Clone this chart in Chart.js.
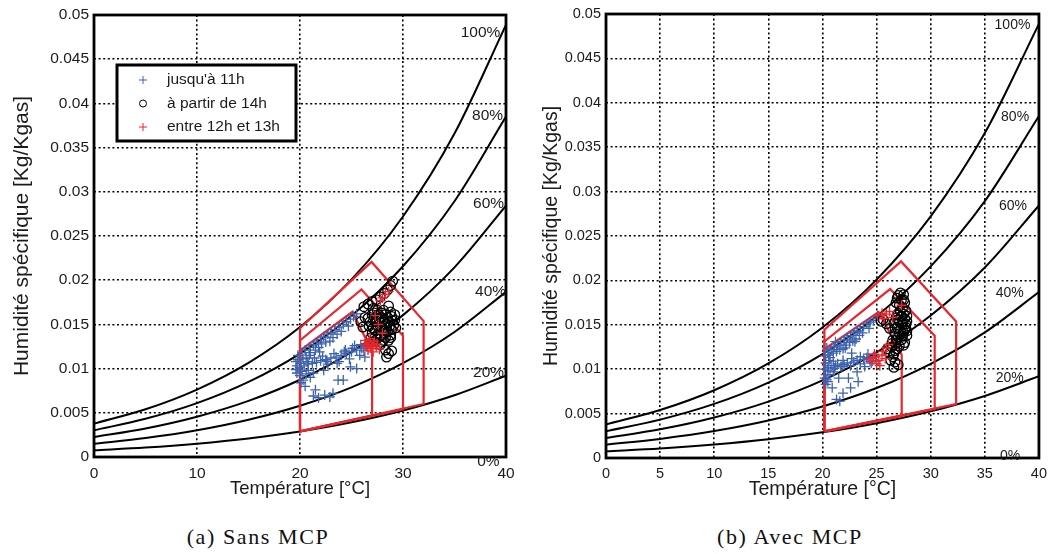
<!DOCTYPE html>
<html lang="fr">
<head>
<meta charset="utf-8">
<title>Humidité spécifique - Sans / Avec MCP</title>
<script src="https://cdn.jsdelivr.net/npm/chart.js@4.4.0/dist/chart.umd.min.js"></script>
<style>
    html, body { margin: 0; padding: 0; background: #fff; }
    body { width: 1054px; height: 554px; position: relative; overflow: hidden; }
    canvas { position: absolute; top: 0; }
    #chartA { left: 0; }
    #chartB { left: 530px; }
    .caption {
        position: absolute; top: 524px; transform: translateX(-50%);
        font-family: "Liberation Serif", "Times New Roman", serif; font-size: 22px;
        letter-spacing: 1.6px; color: #111; white-space: nowrap;
    }
</style>
</head>
<body>
<canvas id="chartA" width="530" height="520"></canvas>
<canvas id="chartB" width="524" height="520"></canvas>
<div class="caption" style="left:258px">(a) Sans MCP</div>
<div class="caption" style="left:790px">(b) Avec MCP</div>

<script>
// ---- values ----
const temps = [0, 5, 10, 15, 20, 25, 30, 35, 40];
const rh100 = [0.00378, 0.00540, 0.00763, 0.01065, 0.01470, 0.02009, 0.02721, 0.03659, 0.04889];
const rh80  = [0.00302, 0.00432, 0.00609, 0.00849, 0.01170, 0.01597, 0.02158, 0.02893, 0.03851];
const rh60  = [0.00226, 0.00323, 0.00456, 0.00635, 0.00874, 0.01190, 0.01605, 0.02145, 0.02844];
const rh40  = [0.00150, 0.00215, 0.00303, 0.00422, 0.00580, 0.00788, 0.01061, 0.01414, 0.01868];
const rh20  = [0.00075, 0.00107, 0.00151, 0.00210, 0.00289, 0.00392, 0.00526, 0.00699, 0.00920];
const rhNames = ['100%', '80%', '60%', '40%', '20%', '0%'];

const xTicksA = [0, 10, 20, 30, 40];
const xTicksB = [0, 5, 10, 15, 20, 25, 30, 35, 40];
const yTicks = [0, 0.005, 0.01, 0.015, 0.02, 0.025, 0.03, 0.035, 0.04, 0.045, 0.05];

const seriesNames = ["jusqu'à 11h", 'à partir de 14h', 'entre 12h et 13h'];

// comfort zones [T, w]  (a) sans MCP
const zoneOuterA  = [[20, 0.0029], [20, 0.01458], [26.95, 0.02207], [32.0, 0.01538], [32.0, 0.0060], [20, 0.0029]];
const zoneMiddleA = [[20, 0.0029], [20, 0.01318], [25.97, 0.01895], [30.0, 0.01372], [30.0, 0.0054], [20, 0.0029]];
const zoneInnerA  = [[20, 0.0029], [20, 0.01203], [25.1, 0.01643], [27.0, 0.0119], [27.0, 0.0047], [20, 0.0029]];
// (b) avec MCP
const zoneOuterB  = [[20.18, 0.0030], [20.18, 0.01445], [27.26, 0.02214], [32.35, 0.01538], [32.35, 0.00608], [20.18, 0.0030]];
const zoneMiddleB = [[20.18, 0.0030], [20.18, 0.01313], [26.25, 0.01902], [30.37, 0.01377], [30.37, 0.00552], [20.18, 0.0030]];
const zoneInnerB  = [[20.18, 0.0030], [20.18, 0.01227], [25.18, 0.01644], [27.32, 0.01163], [27.32, 0.00469], [20.18, 0.0030]];

// measured points (a) sans MCP
const blueA = [
    [19.8, 0.0115], [20.2, 0.0118], [20.5, 0.0121], [20.9, 0.0124], [21.3, 0.0127], [21.6, 0.0130], [22.0, 0.0133],
    [22.3, 0.0136], [22.7, 0.0139], [23.0, 0.0141], [23.4, 0.0144], [23.8, 0.0147], [24.2, 0.0150], [24.5, 0.0153],
    [24.9, 0.0156], [25.2, 0.0159], [25.5, 0.0162], [21.0, 0.0118], [21.8, 0.0124], [22.5, 0.0130], [23.2, 0.0135],
    [24.0, 0.0142], [20.6, 0.0112], [22.1, 0.0128], [19.6, 0.0108],
    [20.3, 0.0111], [20.9, 0.0115], [21.5, 0.0121], [22.9, 0.0131], [23.6, 0.0139], [24.7, 0.0148],
    [19.6, 0.0099], [20.0, 0.0101], [20.4, 0.0103], [20.8, 0.0105], [21.2, 0.0106], [21.6, 0.0107], [22.0, 0.0109],
    [22.5, 0.0110], [23.0, 0.0112], [23.5, 0.0113], [24.0, 0.0115], [24.5, 0.0117], [25.0, 0.0119], [25.5, 0.0121],
    [26.0, 0.0123], [26.4, 0.0126], [26.8, 0.0128], [25.8, 0.0115], [26.3, 0.0113], [24.8, 0.0111], [23.8, 0.0108],
    [22.7, 0.0105], [25.3, 0.0126], [24.4, 0.0121],
    [20.1, 0.0106], [20.7, 0.0108], [21.4, 0.0112], [22.2, 0.0114], [23.3, 0.0117], [24.3, 0.0119], [25.1, 0.0123],
    [19.7, 0.0103], [20.2, 0.0097], [20.6, 0.0094], [25.9, 0.0127], [26.2, 0.0120],
    [19.8, 0.0110], [20.3, 0.0087], [20.5, 0.0080], [21.5, 0.0076], [21.3, 0.0095], [22.3, 0.0098], [22.4, 0.0070],
    [22.9, 0.0068], [23.2, 0.0072], [23.7, 0.0087], [24.2, 0.0087], [24.9, 0.0102], [25.5, 0.0100], [22.6, 0.0108],
    [23.6, 0.0106], [21.9, 0.0119], [21.3, 0.0069], [21.8, 0.0067], [20.0, 0.0092], [19.7, 0.0095], [20.1, 0.0084],
    [20.8, 0.0098], [21.0, 0.0090]
];
const blackA = [
    [27.5, 0.0166], [28.1, 0.0166], [28.8, 0.0164], [27.0, 0.0161], [27.6, 0.0161], [28.3, 0.0161], [28.9, 0.0159],
    [29.2, 0.0155], [26.8, 0.0153], [27.3, 0.0153], [28.0, 0.0153], [28.6, 0.0153], [29.1, 0.0149], [26.7, 0.0148],
    [27.1, 0.0146], [27.8, 0.0148], [28.4, 0.0146], [28.9, 0.0144], [27.0, 0.0140], [27.6, 0.0140], [28.3, 0.0140],
    [28.8, 0.0138], [27.5, 0.0134], [28.1, 0.0132], [28.6, 0.0132], [27.8, 0.0127], [28.3, 0.0121], [28.6, 0.0117],
    [28.4, 0.0113], [28.9, 0.0120], [27.9, 0.0158], [27.4, 0.0157], [28.2, 0.0144], [27.3, 0.0136],
    [27.2, 0.0163], [27.9, 0.0163], [28.5, 0.0158], [27.7, 0.0155], [28.3, 0.0150], [27.5, 0.0149], [28.7, 0.0148],
    [27.3, 0.0143], [27.9, 0.0143], [28.5, 0.0142], [27.8, 0.0137], [28.3, 0.0135], [27.2, 0.0131], [27.9, 0.0130],
    [28.8, 0.0135], [29.3, 0.0146], [29.0, 0.0154], [26.9, 0.0135], [26.6, 0.0157], [27.1, 0.0168], [28.6, 0.0171],
    [29.2, 0.0161],
    [26.2, 0.0170], [26.6, 0.0173], [27.0, 0.0176], [27.4, 0.0178], [27.8, 0.0181], [28.2, 0.0185], [28.5, 0.0189],
    [28.8, 0.0194], [29.0, 0.0199], [25.9, 0.0153], [26.3, 0.0158], [26.1, 0.0147]
];
const redA = [
    [26.3, 0.0128], [26.5, 0.0125], [26.7, 0.0130], [26.9, 0.0123], [27.0, 0.0127], [27.2, 0.0131], [27.4, 0.0125],
    [26.6, 0.0121], [27.1, 0.0119], [27.5, 0.0128], [26.8, 0.0134], [27.7, 0.0122], [26.4, 0.0132], [28.0, 0.0180],
    [28.3, 0.0184], [28.6, 0.0187], [27.8, 0.0177], [27.6, 0.0150], [28.0, 0.0140], [27.3, 0.0160]
];

// measured points (b) avec MCP
const blueB = [
    [20.2, 0.0115], [20.5, 0.0119], [20.8, 0.0122], [21.1, 0.0125], [21.4, 0.0127], [21.7, 0.0130], [22.0, 0.0133],
    [22.3, 0.0136], [22.6, 0.0138], [22.9, 0.0141], [23.2, 0.0143], [23.5, 0.0146], [23.8, 0.0148], [24.1, 0.0151],
    [24.4, 0.0153], [24.7, 0.0155], [25.0, 0.0157], [25.2, 0.0159], [21.0, 0.0118], [21.6, 0.0122], [22.2, 0.0127],
    [22.8, 0.0132], [23.4, 0.0138], [20.4, 0.0124], [21.2, 0.0131],
    [20.3, 0.0107], [20.7, 0.0113], [21.3, 0.0120], [21.9, 0.0123], [22.5, 0.0130], [23.1, 0.0134], [23.7, 0.0141],
    [24.3, 0.0146],
    [20.2, 0.0100], [20.5, 0.0102], [20.8, 0.0104], [21.1, 0.0101], [21.4, 0.0106], [21.7, 0.0103], [22.0, 0.0105],
    [22.3, 0.0107], [22.6, 0.0104], [22.9, 0.0108], [23.2, 0.0110], [23.5, 0.0106], [23.8, 0.0111], [24.1, 0.0113],
    [24.4, 0.0109], [24.7, 0.0114], [20.3, 0.0094], [20.6, 0.0110], [21.0, 0.0097], [20.4, 0.0088], [20.3, 0.0083],
    [20.5, 0.0098], [21.2, 0.0104], [21.9, 0.0110], [22.7, 0.0112], [23.5, 0.0114], [24.2, 0.0117], [20.2, 0.0090],
    [20.5, 0.0086],
    [20.6, 0.0116], [21.0, 0.0109], [21.8, 0.0103], [21.5, 0.0090], [22.4, 0.0090], [22.6, 0.0079], [21.9, 0.0073],
    [21.3, 0.0066], [21.6, 0.0064], [20.9, 0.0079], [20.7, 0.0094], [23.3, 0.0086], [23.2, 0.0097], [23.9, 0.0103],
    [24.5, 0.0107], [25.0, 0.0109], [22.7, 0.0118], [22.1, 0.0124], [23.0, 0.0131]
];
const blackB = [
    [27.2, 0.0186], [27.5, 0.0184], [26.9, 0.0180], [27.3, 0.0178], [27.6, 0.0175], [27.1, 0.0172], [27.4, 0.0169],
    [27.7, 0.0166], [27.0, 0.0163], [27.3, 0.0160], [27.6, 0.0157], [27.8, 0.0154], [26.8, 0.0158], [27.1, 0.0153],
    [27.4, 0.0150], [27.7, 0.0147], [26.6, 0.0152], [26.9, 0.0147], [27.2, 0.0144], [27.5, 0.0141], [27.8, 0.0138],
    [26.7, 0.0140], [27.0, 0.0136], [27.3, 0.0133], [27.6, 0.0130], [26.5, 0.0133], [26.8, 0.0129], [27.1, 0.0126],
    [26.4, 0.0125], [26.7, 0.0121], [26.2, 0.0118], [26.5, 0.0114], [26.3, 0.0110], [26.7, 0.0108], [26.6, 0.0102],
    [27.0, 0.0105], [26.0, 0.0123], [25.6, 0.0156], [25.9, 0.0151], [26.2, 0.0146], [25.4, 0.0154],
    [27.0, 0.0183], [27.5, 0.0178], [26.8, 0.0175], [27.2, 0.0165], [27.5, 0.0162], [26.9, 0.0161], [27.8, 0.0160],
    [27.0, 0.0156], [27.4, 0.0154], [26.7, 0.0146], [27.6, 0.0144], [27.1, 0.0140], [27.4, 0.0137], [26.8, 0.0133],
    [27.5, 0.0127], [26.9, 0.0123], [26.4, 0.0129], [26.6, 0.0117], [27.8, 0.0143], [27.7, 0.0151]
];
const redB = [
    [24.3, 0.0112], [24.6, 0.0109], [24.9, 0.0114], [25.2, 0.0110], [25.5, 0.0116], [25.8, 0.0112], [25.0, 0.0106],
    [25.6, 0.0120], [25.9, 0.0124], [26.1, 0.0128], [24.8, 0.0117], [25.3, 0.0104], [25.1, 0.0160], [25.5, 0.0163],
    [25.9, 0.0162], [26.2, 0.0165], [26.5, 0.0158], [25.7, 0.0157], [27.3, 0.0172]
];

// ---- drawing ----
const BLUE = '#3d62ad';
const RED = '#e8262c';
const INK = '#1b1b1b';

const toXY = pairs => pairs.map(p => ({ x: p[0], y: p[1] }));
const curve = w => temps.map((t, i) => ({ x: t, y: w[i] }));

// frame, humidity labels and the boxed legend
const notesPlugin = {
    id: 'notes',
    afterDraw(chart, args, o) {
        const { ctx, chartArea: a, scales: { x, y } } = chart;
        ctx.save();
        ctx.strokeStyle = '#000';
        ctx.lineWidth = 2.8;
        ctx.strokeRect(a.left, a.top, a.right - a.left, a.bottom - a.top);

        ctx.font = o.noteFont;
        ctx.fillStyle = INK;
        ctx.textAlign = 'left';
        ctx.textBaseline = 'middle';
        rhNames.forEach((txt, i) => {
            ctx.fillText(txt, x.getPixelForValue(o.noteT[i]), y.getPixelForValue(o.noteW[i]));
        });

        const L = o.legend;
        ctx.fillStyle = '#fff';
        ctx.fillRect(L.left, L.top, L.width, L.height);
        ctx.lineWidth = 3;
        ctx.strokeRect(L.left, L.top, L.width, L.height);
        ctx.font = L.font;
        seriesNames.forEach((name, i) => {
            const ds = chart.data.datasets.find(d => d.label === name);
            const mx = L.markX, my = L.rows[i];
            ctx.strokeStyle = ds.borderColor;
            ctx.lineWidth = 1;
            ctx.beginPath();
            if (ds.pointStyle === 'circle') {
                ctx.arc(mx, my, 3.5, 0, Math.PI * 2);
            } else {
                ctx.moveTo(mx - 4, my); ctx.lineTo(mx + 4, my);
                ctx.moveTo(mx, my - 4); ctx.lineTo(mx, my + 4);
            }
            ctx.stroke();
            ctx.fillStyle = INK;
            ctx.fillText(name, L.textX, my);
        });
        ctx.restore();
    }
};

function buildPanel(id, cfg) {
    const pts = (label, data, style, color, r) => ({
        label, data: toXY(data), showLine: false, pointStyle: style,
        pointRadius: r, pointBorderWidth: 1.3, borderColor: color,
        pointBorderColor: color, pointBackgroundColor: 'rgba(0,0,0,0)'
    });
    const zone = data => ({
        data: toXY(data), showLine: true, borderColor: RED, borderWidth: 2.2,
        pointRadius: 0, tension: 0, fill: false
    });
    const rh = w => ({
        data: curve(w), showLine: true, borderColor: '#000', borderWidth: 2,
        pointRadius: 0, cubicInterpolationMode: 'monotone', fill: false
    });

    const datasets = [
        pts(seriesNames[2], cfg.red, 'cross', RED, 5),
        pts(seriesNames[1], cfg.black, 'circle', '#000', 4.8),
        pts(seriesNames[0], cfg.blue, 'cross', BLUE, 5),
        zone(cfg.zones[0]), zone(cfg.zones[1]), zone(cfg.zones[2]),
        rh(rh100), rh(rh80), rh(rh60), rh(rh40), rh(rh20)
    ];

    return new Chart(document.getElementById(id), {
        type: 'scatter',
        data: { datasets },
        options: {
            responsive: false,
            animation: false,
            layout: { padding: cfg.padding },
            plugins: {
                legend: { display: false },
                tooltip: { enabled: false },
                notes: {
                    noteFont: cfg.noteFont, noteT: cfg.noteT, noteW: cfg.noteW,
                    legend: cfg.legend
                }
            },
            scales: {
                x: {
                    type: 'linear', min: 0, max: 40,
                    afterBuildTicks: s => { s.ticks = cfg.xTicks.map(v => ({ value: v })); },
                    afterFit: s => { s.height = cfg.xHeight; },
                    grid: { color: '#000', lineWidth: 1.6, drawTicks: false },
                    border: { display: false, dash: [2, 2.6] },
                    ticks: { color: INK, padding: 7, font: { family: 'Liberation Sans', size: cfg.tickSize }, maxRotation: 0 },
                    title: {
                        display: true, text: 'Température [°C]', color: INK,
                        font: { family: 'Liberation Sans', size: cfg.xTitleSize },
                        padding: { top: cfg.xTitlePad, bottom: cfg.xTitlePad }
                    }
                },
                y: {
                    type: 'linear', min: 0, max: 0.05,
                    afterBuildTicks: s => { s.ticks = yTicks.map(v => ({ value: v })); },
                    afterFit: s => { s.width = cfg.yWidth; },
                    grid: { color: '#000', lineWidth: 1.6, drawTicks: false },
                    border: { display: false, dash: [2, 2.6] },
                    ticks: {
                        color: INK, padding: 5, font: { family: 'Liberation Sans', size: cfg.tickSize },
                        callback: v => String(+v.toFixed(3))
                    },
                    title: {
                        display: true, text: 'Humidité spécifique [Kg/Kgas]', color: INK,
                        font: { family: 'Liberation Sans', size: cfg.yTitleSize },
                        padding: { top: cfg.yTitlePad, bottom: cfg.yTitlePad }
                    }
                }
            }
        },
        plugins: [notesPlugin]
    });
}

buildPanel('chartA', {
    blue: blueA, black: blackA, red: redA,
    zones: [zoneOuterA, zoneMiddleA, zoneInnerA],
    xTicks: xTicksA,
    padding: { top: 15, right: 24, bottom: 0, left: 0 },
    yWidth: 94, xHeight: 63,
    tickSize: 15.5, xTitleSize: 18.5, yTitleSize: 21, xTitlePad: 19.5, yTitlePad: 10,
    noteFont: '15.5px "Liberation Sans"',
    noteT: [35.6, 36.7, 36.8, 37.0, 36.8, 37.2],
    noteW: [0.0480, 0.0386, 0.0287, 0.0187, 0.0095, -0.0005],
    legend: { left: 117, top: 65, width: 179, height: 76, markX: 143, textX: 167, rows: [80, 103.5, 127], font: '15.5px "Liberation Sans"' }
});

buildPanel('chartB', {
    blue: blueB, black: blackB, red: redB,
    zones: [zoneOuterB, zoneMiddleB, zoneInnerB],
    xTicks: xTicksB,
    padding: { top: 14, right: 12, bottom: 0, left: 0 },
    yWidth: 76, xHeight: 62,
    tickSize: 14.5, xTitleSize: 19.5, yTitleSize: 19.5, xTitlePad: 19, yTitlePad: 10,
    noteFont: '14px "Liberation Sans"',
    noteT: [35.9, 36.5, 36.3, 36.0, 36.0, 36.4],
    noteW: [0.0488, 0.0384, 0.0284, 0.0186, 0.0090, 0.0002],
    legend: { left: 652, top: 84, width: 164, height: 65, markX: 677, textX: 698, rows: [98, 117.5, 137], font: '14.5px "Liberation Sans"' }
});
</script>
</body>
</html>
